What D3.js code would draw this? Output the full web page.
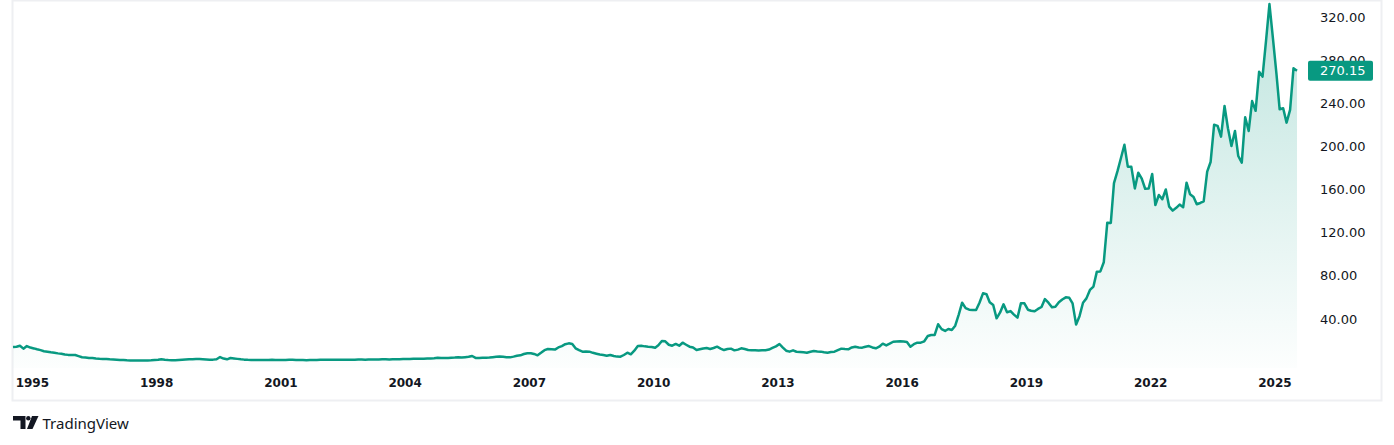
<!DOCTYPE html>
<html>
<head>
<meta charset="utf-8">
<script src="https://cdn.jsdelivr.net/npm/d3@7"></script>
<style>
    html, body { margin: 0; padding: 0; background: #ffffff; }
    svg { display: block; }
</style>
</head>
<body>
<div id="chart"></div>
<script>
// monthly closes, first bar = Aug 1994
const firstMonth = new Date(1994, 7, 1);

const prices1994to1999 = [
    13.9, 14.2, 15.1, 12.4, 14.8, 13.4, 12.6, 11.8, 11.0, 10.0,
    9.5, 9.0, 8.6, 8.0, 7.7, 7.0, 6.6, 6.5, 6.5, 5.5,
    4.4, 4.2, 3.8, 3.7, 3.3, 3.0, 2.8, 2.8, 2.5, 2.3,
    2.1, 1.9, 1.8, 1.6, 1.5, 1.5, 1.4, 1.4, 1.4, 1.5,
    1.6, 1.8, 2.0, 2.5, 2.1, 1.8, 1.6, 1.7, 1.9, 2.1,
    2.3, 2.5, 2.6, 2.8, 2.8, 2.6, 2.4, 2.2, 2.2, 2.5,
    4.6, 3.2, 2.5, 3.7, 3.3
];

const prices2000to2007 = [
    2.9, 2.5, 2.2, 2.0, 1.9,
    1.9, 1.8, 1.8, 1.9, 1.9, 2.0, 1.9, 1.8, 1.8, 1.9,
    2.0, 2.0, 1.9, 1.8, 1.8, 1.7, 1.8, 1.9, 1.9, 2.0,
    2.0, 2.0, 2.1, 2.1, 2.0, 2.1, 2.2, 2.2, 2.1, 2.2,
    2.3, 2.3, 2.2, 2.3, 2.4, 2.3, 2.4, 2.5, 2.5, 2.4,
    2.5, 2.6, 2.6, 2.7, 2.8, 2.8, 2.9, 3.0, 3.0, 3.1,
    3.2, 3.3, 3.5, 4.0, 3.8, 3.7, 3.8, 4.0, 4.1, 4.3,
    4.2, 4.5, 4.8, 5.6, 3.8, 3.8, 3.9, 4.0, 4.1, 4.5,
    4.9, 5.2, 4.9, 4.5, 4.3, 5.0, 5.8, 6.2, 7.4, 8.1,
    8.1, 7.5, 6.2, 8.5, 11.0, 12.1, 11.8, 11.5, 13.5, 14.8, 16.5
];

const prices2008to2015 = [
    17.3, 16.7, 12.7, 11.0, 9.6, 9.8, 9.6, 8.5, 7.7,
    7.0, 6.5, 5.8, 6.5, 5.5, 5.0, 4.9, 6.5, 8.6, 7.1,
    10.5, 14.8, 15.0, 14.5, 14.2, 14.0, 13.3, 15.5, 19.5, 19.2,
    16.0, 15.1, 16.7, 15.1, 17.9, 16.0, 14.2, 13.5, 11.1, 11.8,
    12.5, 13.0, 12.1, 13.0, 14.2, 12.5, 11.1, 12.0, 12.4, 10.8,
    11.5, 12.7, 12.0, 11.1, 10.8, 10.8, 10.7, 10.8, 10.9, 11.5,
    13.0, 14.5, 16.7, 13.6, 10.5, 9.6, 10.8, 9.5, 9.3, 9.0,
    8.6, 9.5, 10.2, 9.8, 9.6, 9.0, 8.6, 9.2, 9.6, 11.0,
    12.4, 12.0, 11.8, 13.5, 14.2, 13.5, 13.3, 14.2, 14.8, 13.5,
    12.7, 14.2, 17.0, 15.4, 17.0, 18.8, 19.0
];

const prices2016to2025 = [
    19.2, 19.0, 18.6, 14.2, 16.5, 17.9, 17.9,
    19.2, 24.1, 25.0, 25.1, 35.0, 30.5, 28.8, 30.6, 29.7, 33.7,
    44.0, 55.0, 50.0, 48.5, 48.2, 48.2, 55.0, 63.7, 62.8, 55.5,
    52.9, 40.5, 46.0, 53.5, 46.1, 47.2, 44.0, 41.1, 54.4, 54.4,
    48.5, 47.5, 47.0, 49.2, 51.0, 58.4, 55.0, 50.7, 51.3, 55.5,
    58.0, 60.0, 59.5, 54.4, 34.7, 42.5, 55.0, 59.0, 66.8, 70.0,
    83.8, 84.0, 92.5, 129.2, 129.0, 166.0, 177.0, 189.0, 201.5, 181.2,
    181.0, 161.0, 175.6, 170.0, 160.7, 161.0, 174.4, 145.6, 154.9, 151.0,
    160.0, 144.1, 140.4, 143.0, 146.0, 143.5, 166.3, 155.5, 153.0, 146.3, 147.5, 149.0,
    176.5, 185.5, 220.0, 219.0, 209.0, 237.5, 216.8, 200.4, 214.3, 191.1,
    184.9, 227.0, 214.3, 242.0, 233.0, 269.3, 264.7, 298.0, 332.0, 300.0,
    267.0, 234.4, 235.3, 222.0, 233.8, 272.4, 270.15
];

const priceTicks = [40, 80, 120, 160, 200, 240, 280, 320];
const yearTicks = [1995, 1998, 2001, 2004, 2007, 2010, 2013, 2016, 2019, 2022, 2025];

const closes = [...prices1994to1999, ...prices2000to2007, ...prices2008to2015, ...prices2016to2025];
const data = closes.map((v, i) => ({ date: d3.timeMonth.offset(firstMonth, i), value: v }));
const last = data[data.length - 1];

const width = 1394;
const height = 445;
const lineColor = '#089981';
const textColor = '#131722';
const numFont = '"DejaVu Sans", Verdana, sans-serif';

const svg = d3.select('#chart')
    .append('svg')
    .attr('width', width)
    .attr('height', height);

const x = d3.scaleTime()
    .domain(d3.extent(data, d => d.date))
    .range([13, 1297]);

const y = d3.scaleLinear()
    .domain([0, 320])
    .range([362, 17]);

const plotBottom = 368;

// gradient under the line
const defs = svg.append('defs');
const grad = defs.append('linearGradient')
    .attr('id', 'areaFill')
    .attr('gradientUnits', 'userSpaceOnUse')
    .attr('x1', 0).attr('x2', 0)
    .attr('y1', y(d3.max(closes))).attr('y2', plotBottom);
grad.append('stop').attr('offset', '0%').attr('stop-color', lineColor).attr('stop-opacity', 0.26);
grad.append('stop').attr('offset', '100%').attr('stop-color', lineColor).attr('stop-opacity', 0.01);

// frame
svg.append('rect')
    .attr('x', 12.5)
    .attr('y', 0.5)
    .attr('width', 1369)
    .attr('height', 400)
    .attr('fill', 'none')
    .attr('stroke', '#eeeff2')
    .attr('stroke-width', 2);

const area = d3.area()
    .x(d => x(d.date))
    .y0(plotBottom)
    .y1(d => y(d.value));

const line = d3.line()
    .x(d => x(d.date))
    .y(d => y(d.value));

svg.append('path')
    .datum(data)
    .attr('d', area)
    .attr('fill', 'url(#areaFill)');

svg.append('path')
    .datum(data)
    .attr('d', line)
    .attr('fill', 'none')
    .attr('stroke', lineColor)
    .attr('stroke-width', 2.5)
    .attr('stroke-linejoin', 'round');

// price scale
svg.append('g')
    .selectAll('text')
    .data(priceTicks)
    .enter()
    .append('text')
    .attr('x', 1320)
    .attr('y', d => y(d))
    .attr('dy', '0.36em')
    .style('font-family', numFont)
    .style('font-size', '13px')
    .attr('fill', textColor)
    .text(d => d3.format('.2f')(d));

// last price label, drawn over the scale like the original
const tag = svg.append('g');
tag.append('rect')
    .attr('x', 1308)
    .attr('y', y(last.value) - 10)
    .attr('width', 65)
    .attr('height', 20)
    .attr('rx', 2)
    .attr('fill', lineColor);
tag.append('text')
    .attr('x', 1320)
    .attr('y', y(last.value))
    .attr('dy', '0.36em')
    .style('font-family', numFont)
    .style('font-size', '13px')
    .attr('fill', '#ffffff')
    .text(d3.format('.2f')(last.value));

// time scale
svg.append('g')
    .selectAll('text')
    .data(yearTicks)
    .enter()
    .append('text')
    .attr('x', d => x(new Date(d, 0, 1)) + 2)
    .attr('y', 383)
    .attr('dy', '0.36em')
    .attr('text-anchor', 'middle')
    .style('font-family', numFont)
    .style('font-size', '12px')
    .style('font-weight', 'bold')
    .attr('fill', textColor)
    .text(d => d);

// TradingView mark
const logo = svg.append('g').attr('fill', textColor);
logo.append('path').attr('d', 'M13,416 H25.5 V429 H20.5 V420.5 H13 Z');
logo.append('circle').attr('cx', 28.3).attr('cy', 418.3).attr('r', 2.2);
logo.append('path').attr('d', 'M32,416 H38.5 L32.5,429 H27 Z');
logo.append('text')
    .attr('x', 42.5)
    .attr('y', 429)
    .style('font-family', '"Noto Sans", sans-serif')
    .style('font-size', '15px')
    .text('TradingView');
</script>
</body>
</html>
